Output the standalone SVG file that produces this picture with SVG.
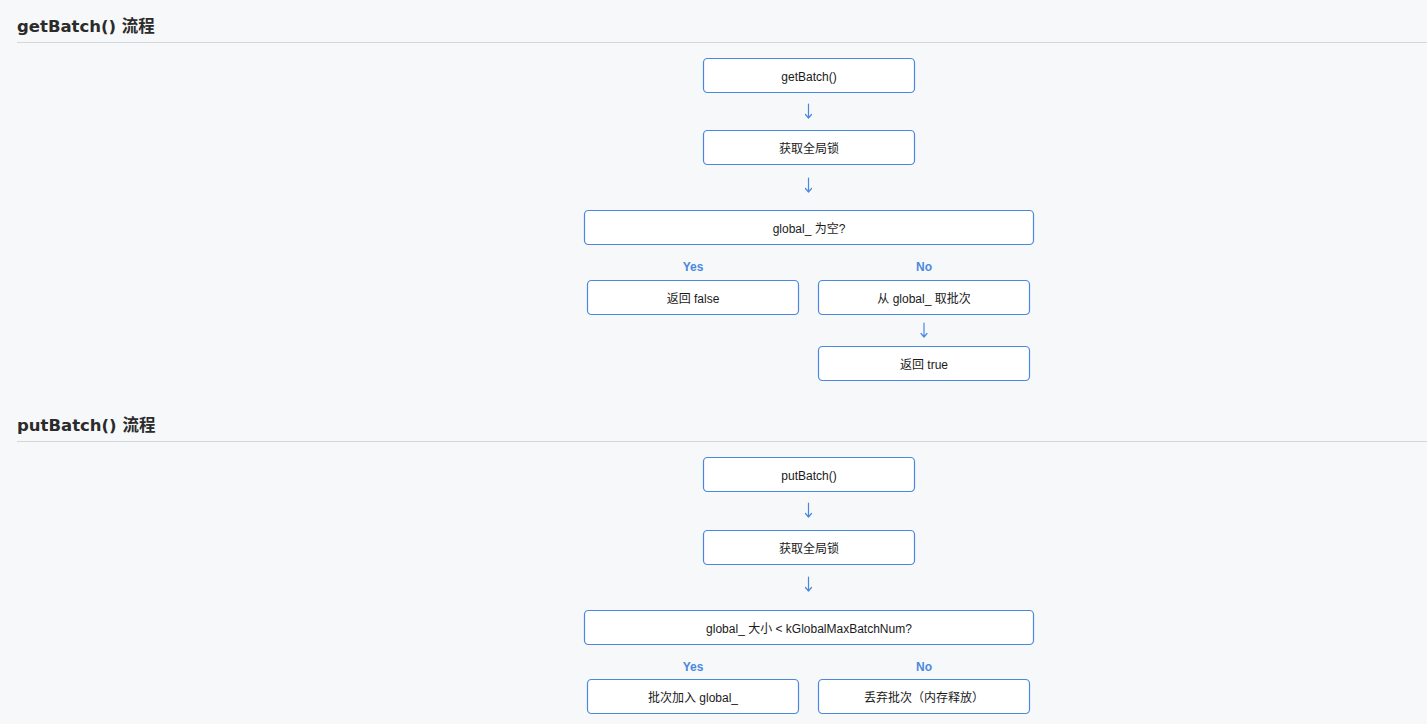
<svg xmlns="http://www.w3.org/2000/svg" width="1427" height="724" viewBox="0 0 1427 724">
<style>
.bg{fill:#f7f8fa}
.title{font-family:"DejaVu Sans","Noto Sans CJK SC",sans-serif;font-weight:bold;font-size:16.5px;fill:#2b2b2b}
.rule{stroke:#d4d6da;stroke-width:1}
.box{fill:#ffffff;stroke:#4a88e0;stroke-width:1.2}
.lbl{font-family:"Liberation Sans","Noto Sans CJK SC",sans-serif;font-size:12px;fill:#1a1a1a;text-anchor:middle;dominant-baseline:central}
.yn{font-family:"Liberation Sans",Arial,sans-serif;font-size:12px;font-weight:bold;fill:#4a88e0;text-anchor:middle;dominant-baseline:central}
.arr{fill:none;stroke:#4a88e0;stroke-width:1.2;stroke-linecap:round;stroke-linejoin:round}
</style>
<rect class="bg" x="0" y="0" width="1427" height="724"/>

<g id="section-get">
<text class="title" x="17" y="32">getBatch() 流程</text>
<line class="rule" x1="17" y1="42.5" x2="1427" y2="42.5"/>
</g>
<g id="g-start"><rect class="box" x="703.5" y="58.5" width="211" height="34" rx="4"/><text class="lbl" x="809" y="76.5">getBatch()</text></g>
<g id="g-lock"><rect class="box" x="703.5" y="130.5" width="211" height="34" rx="4"/><text class="lbl" x="809" y="148.5">获取全局锁</text></g>
<g id="g-cond"><rect class="box" x="584.5" y="210.5" width="449" height="34" rx="4"/><text class="lbl" x="809" y="228.5">global_ 为空?</text></g>
<g id="g-yes-label"><text class="yn" x="693" y="267">Yes</text></g>
<g id="g-no-label"><text class="yn" x="924" y="267">No</text></g>
<g id="g-false"><rect class="box" x="587.5" y="280.5" width="211" height="34" rx="4"/><text class="lbl" x="693" y="298.5">返回 false</text></g>
<g id="g-take"><rect class="box" x="818.5" y="280.5" width="211" height="34" rx="4"/><text class="lbl" x="924" y="298.5">从 global_ 取批次</text></g>
<g id="g-true"><rect class="box" x="818.5" y="346.5" width="211" height="34" rx="4"/><text class="lbl" x="924" y="364.5">返回 true</text></g>

<g id="section-put">
<text class="title" x="17" y="431">putBatch() 流程</text>
<line class="rule" x1="17" y1="441.5" x2="1427" y2="441.5"/>
</g>
<g id="p-start"><rect class="box" x="703.5" y="457.5" width="211" height="34" rx="4"/><text class="lbl" x="809" y="475.5">putBatch()</text></g>
<g id="p-lock"><rect class="box" x="703.5" y="530.5" width="211" height="34" rx="4"/><text class="lbl" x="809" y="548.5">获取全局锁</text></g>
<g id="p-cond"><rect class="box" x="584.5" y="610.5" width="449" height="34" rx="4"/><text class="lbl" x="809" y="628.5">global_ 大小 &lt; kGlobalMaxBatchNum?</text></g>
<g id="p-yes-label"><text class="yn" x="693" y="667">Yes</text></g>
<g id="p-no-label"><text class="yn" x="924" y="667">No</text></g>
<g id="p-add"><rect class="box" x="587.5" y="679.5" width="211" height="34" rx="4"/><text class="lbl" x="693" y="697.5">批次加入 global_</text></g>
<g id="p-drop"><rect class="box" x="818.5" y="679.5" width="211" height="34" rx="4"/><text class="lbl" x="924" y="697.5">丢弃批次（内存释放）</text></g>

<g id="connectors">
<path class="arr" d="M808.5 104 V118 M805.5 114.5 L808.5 118 L811.5 114.5"/>
<path class="arr" d="M808.5 178 V192 M805.5 188.5 L808.5 192 L811.5 188.5"/>
<path class="arr" d="M924 323 V337 M921 333.5 L924 337 L927 333.5"/>
<path class="arr" d="M808.5 503 V517 M805.5 513.5 L808.5 517 L811.5 513.5"/>
<path class="arr" d="M808.5 577 V591 M805.5 587.5 L808.5 591 L811.5 587.5"/>
</g>
</svg>
